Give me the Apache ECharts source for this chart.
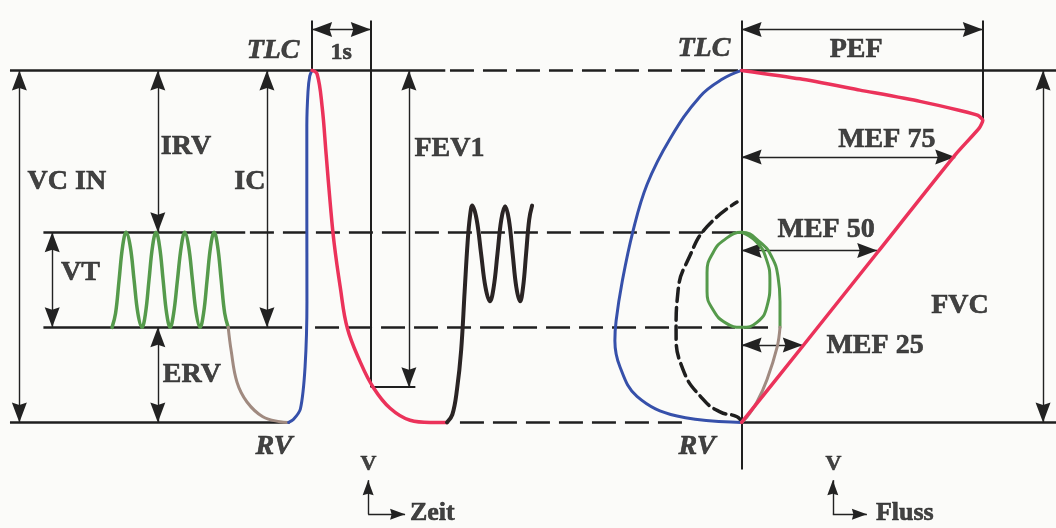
<!DOCTYPE html>
<html><head><meta charset="utf-8">
<script src="https://cdn.jsdelivr.net/npm/echarts@6/dist/echarts.min.js"></script>
<style>html,body{margin:0;padding:0;background:#fbfbf9}#c{width:1056px;height:528px}</style>
</head><body><div id="c"></div>
<script>
// ---- Volume levels (L) ----
const TLC = 6.5, VT_TOP = 4.2, FRC = 2.85, RV = 1.5;
const FEV1_LEVEL = 2.0;   // volume after 1 s of forced expiration
const PEF = 10.05;        // peak expiratory flow (L/s)

// ---- Spirogram (x = time s, y = volume L) ----
const tidalBreaths = [[-3.41,2.85],[-3.35,3.05],[-3.29,3.525],[-3.23,4.0],[-3.17,4.2],[-3.1,4.0],[-3.035,3.525],[-2.97,3.05],[-2.9,2.85],
  [-2.84,3.05],[-2.78,3.525],[-2.72,4.0],[-2.66,4.2],[-2.6,4.0],[-2.54,3.525],[-2.48,3.05],[-2.42,2.85],
  [-2.36,3.05],[-2.295,3.525],[-2.23,4.0],[-2.17,4.2],[-2.105,4.0],[-2.04,3.525],[-1.975,3.05],[-1.91,2.85],
  [-1.85,3.05],[-1.79,3.525],[-1.73,4.0],[-1.67,4.2],[-1.61,4.0],[-1.55,3.525],[-1.49,3.05],[-1.43,2.85]];
const ervExpiration = [[-1.43,2.85],[-1.38,2.52],[-1.28,2.07],[-1.11,1.79],[-0.84,1.58],[-0.55,1.51],[-0.4,1.5]];
const maxInspiration = [[-0.4,1.5],[-0.32,1.54],[-0.2,1.69],[-0.12,2.29],[-0.088,3.22],[-0.09,4.6],[-0.09,5.71],[-0.07,6.2],[-0.04,6.42],[0,6.5]];
const forcedExpiration = [[0,6.5],[0.085,6.45],[0.17,5.99],[0.24,5.3],[0.31,4.6],[0.375,4.05],[0.48,3.42],[0.6,2.84],[0.82,2.36],[1.04,2.0],[1.33,1.7],[1.67,1.53],[2.01,1.5],[2.3,1.5]];
const recoveryBreaths = [[2.3,1.5],[2.39,1.61],[2.47,1.97],[2.54,2.52],[2.6,3.36],[2.65,4.05],[2.69,4.42],[2.73,4.58],
  [2.805,4.38],[2.88,3.9],[2.955,3.42],[3.03,3.22],[3.095,3.42],[3.16,3.9],[3.225,4.38],[3.29,4.57],
  [3.354,4.38],[3.418,3.9],[3.481,3.42],[3.545,3.22],[3.596,3.42],[3.648,3.9],[3.7,4.38],[3.75,4.58]];

// ---- Flow-volume loop (x = flow L/s, y = volume L) ----
const fvExpiration = [[0,6.5],[2.43,6.38],[4.93,6.22],[7.43,6.06],[9.1,5.93],[9.85,5.86],[10.05,5.79],[9.9,5.68],[8.9,5.3],[5.65,3.91],[2.61,2.61],[0,1.5]];
const fvInspiration = [[0,6.5],[-0.78,6.38],[-1.73,6.13],[-2.98,5.53],[-3.94,4.88],[-4.53,4.21],[-4.98,3.49],[-5.23,2.94],[-5.28,2.66],[-5.07,2.29],[-4.36,1.87],[-2.69,1.59],[0,1.5]];
const fvRestricted = [[0,1.5],[-0.19,1.58],[-0.9,1.65],[-1.61,1.83],[-2.44,2.25],[-2.73,2.8],[-2.65,3.36],[-2.15,3.87],[-1.44,4.28],[-0.19,4.63]];
const fvTidalLoop = [[1.6,2.85],[1.6,3.22],[1.52,3.56],[1.27,3.84],[0.77,4.06],[0,4.2],[-0.69,4.1],[-1.19,3.91],[-1.44,3.63],[-1.44,3.36],[-1.19,3.1],[-0.65,2.91],[0,2.85],[0.64,2.92],[1.06,3.15],[1.18,3.49],[1.02,3.83],[0.6,4.07],[0,4.2]];
const fvErv = [[1.6,2.85],[1.48,2.57],[1.06,2.11],[0.64,1.79],[0.23,1.58],[0,1.5]];

// ---- Reference lines: [volume, from, to] ----
const levelSolidTime = [[TLC,-5.15,2.27],[VT_TOP,-4.58,-1.14],[FRC,-4.58,-0.17],[RV,-5.15,-0.38]];
const levelDashTime = [[TLC,2.35,7.3],[VT_TOP,-1.06,7.3],[FRC,0.05,7.89],[RV,2.52,6.36]];
const levelSolidFlow = [[TLC,0,13.1],[RV,0,13.1]];
// vertical markers: [x, fromVol, toVol]
const markTime = [[0,7.21,TLC],[1,7.21,FEV1_LEVEL]];
const footTime = [[FEV1_LEVEL,1,1.76]];
const markFlow = [[0,7.21,0.83],[PEF,7.21,5.79]];
// dimension arrows
const dimTime = [['VC IN',-4.99,RV,TLC],['IRV',-2.63,VT_TOP,TLC],['IC',-0.77,FRC,TLC],['VT',-4.43,FRC,VT_TOP],['ERV',-2.63,RV,FRC],['FEV1',1.65,FEV1_LEVEL,TLC]];
const dimTimeH = [['1s',7.08,0,1]];
const dimFlowH = [['PEF',7.08,0,PEF],['MEF 75',5.27,0,8.9],['MEF 50',3.94,0,5.65],['MEF 25',2.6,0,2.55]];
const dimFlowV = [['FVC',12.56,RV,TLC]];
// small axis icons: [x, y0, yTip, xTip]
const iconTime = [0.955,0.194,0.68,1.585];
const iconFlow = [3.8,0.194,0.68,5.22];

// ---- Labels: [text, x, volume] ----
const labelsTime = [['TLC',-0.665,6.78],['1s',0.494,6.75],['VC IN',-4.18,4.92],['IRV',-2.15,5.42],['IC',-1.06,4.92],['VT',-3.95,3.63],['ERV',-2.05,2.18],['FEV1',2.34,5.39],['RV',-0.65,1.15],['V',0.96,0.9],['Zeit',2.05,0.21]];
const labelsFlow = [['TLC',-1.57,6.81],['PEF',4.77,6.79],['MEF 75',6.05,5.52],['MEF 50',3.52,4.24],['MEF 25',5.56,2.59],['FVC',9.1,3.15],['RV',-1.86,1.15],['V',3.83,0.9],['Fluss',6.8,0.21]];

// arrowhead in a square box, tip at the box centre (invisible moveTo points set the box)
const ARROW = 'path://M0,0 M40,0 M0,40 M40,40 M20,20 L27.5,40 L20,37.5 L12.5,40 Z';
const ARROW_S = 'path://M0,0 M30,0 M0,30 M30,30 M15,15 L20.5,30 L15,28.5 L9.5,30 Z';
const INK = '#1f1f1f';

function hSeg(list){ return list.map(([v,a,b]) => ({coords:[[a,v],[b,v]]})); }
function vSeg(list){ return list.map(([x,a,b]) => ({coords:[[x,a],[x,b]]})); }
function linesSeries(ax, data, style, sym, size){
  return {type:'lines', coordinateSystem:'cartesian2d', xAxisIndex:ax, yAxisIndex:0, silent:true,
    polyline:false, data, lineStyle:Object.assign({color:INK, opacity:1, curveness:0}, style),
    symbol: sym || 'none', symbolSize: size || 10, z:3};
}
function curve(ax, data, color, width, smooth, dash){
  return {type:'line', xAxisIndex:ax, yAxisIndex:0, data, showSymbol:false, smooth, silent:true,
    lineStyle:{color, width, type: dash || 'solid', cap:'round', join:'round'}, z:5};
}
function labelItem([name,x,v]){
  const lbl = {};
  if (name === 'TLC' || name === 'RV') lbl.fontStyle = 'italic';
  if (name === '1s') lbl.fontSize = 24;
  if (name === 'V') lbl.fontSize = 22;
  if (name === 'Zeit' || name === 'Fluss') lbl.fontSize = 26;
  return {name, value:[x,v], label:lbl};
}
function labelSeries(ax, list){
  return {type:'scatter', xAxisIndex:ax, yAxisIndex:0, silent:true, symbolSize:1,
    itemStyle:{color:'transparent'}, z:6,
    label:{show:true, position:'inside', formatter:'{b}', color:'#141414',
      textBorderColor:'#141414', textBorderWidth:0.6,
      fontFamily:'Liberation Serif', fontWeight:'bold', fontSize:28},
    data:list.map(labelItem)};
}

const option = {
  backgroundColor:'#fbfbf9',
  animation:false,
  grid:{left:0, right:0, top:-9, bottom:-4},
  xAxis:[{type:'value', min:-5.32, max:12.68, show:false},
         {type:'value', min:-30.9, max:13.1, show:false}],
  yAxis:{type:'value', min:0, max:7.5, show:false},
  series:[
    linesSeries(0, hSeg(levelSolidTime), {width:2.6}),
    linesSeries(0, hSeg(levelDashTime), {width:2.6, type:[24,9]}),
    linesSeries(1, hSeg(levelSolidFlow), {width:2.6}),
    linesSeries(0, vSeg(markTime).concat(hSeg(footTime)), {width:2}),
    linesSeries(1, vSeg(markFlow), {width:2}),
    linesSeries(0, dimTime.map(([n,x,a,b]) => ({coords:[[x,a],[x,b]]})).concat(dimTimeH.map(([n,v,a,b]) => ({coords:[[a,v],[b,v]]}))), {width:1.4, color:'#222'}, [ARROW,ARROW], 40),
    linesSeries(1, dimFlowH.map(([n,v,a,b]) => ({coords:[[a,v],[b,v]]})).concat(dimFlowV.map(([n,x,a,b]) => ({coords:[[x,a],[x,b]]}))), {width:1.4, color:'#222'}, [ARROW,ARROW], 40),
    linesSeries(0, [{coords:[[iconTime[0],iconTime[1]],[iconTime[0],iconTime[2]]]},{coords:[[iconTime[0],iconTime[1]],[iconTime[3],iconTime[1]]]}], {width:1.4, color:'#222'}, ['none',ARROW_S], 30),
    linesSeries(1, [{coords:[[iconFlow[0],iconFlow[1]],[iconFlow[0],iconFlow[2]]]},{coords:[[iconFlow[0],iconFlow[1]],[iconFlow[3],iconFlow[1]]]}], {width:1.4, color:'#222'}, ['none',ARROW_S], 30),
    curve(0, tidalBreaths, '#559a4b', 3.5, 0.4),
    curve(0, ervExpiration, '#a08a80', 3, 0.4),
    curve(0, maxInspiration, '#3650aa', 3, 0.3),
    curve(0, forcedExpiration, '#eb325a', 3.5, 0.4),
    curve(0, recoveryBreaths, '#2a2424', 4, 0.4),
    curve(1, fvRestricted, '#1e1e1e', 3.5, 0.5, [13,6]),
    curve(1, fvInspiration, '#3650aa', 3, 0.4),
    curve(1, fvTidalLoop, '#559a4b', 3, 0.5),
    curve(1, fvErv, '#a08a80', 3, 0.4),
    curve(1, fvExpiration, '#eb325a', 3.5, 0.2),
    labelSeries(0, labelsTime),
    labelSeries(1, labelsFlow)
  ]
};
const chart = echarts.init(document.getElementById('c'), null, {renderer:'canvas'});
chart.setOption(option);
</script></body></html>
